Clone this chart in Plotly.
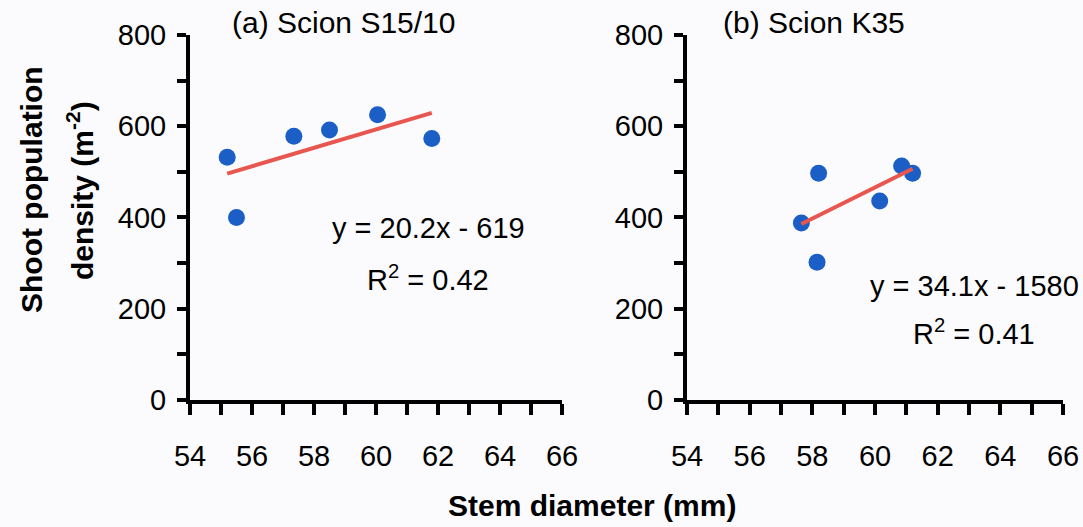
import plotly.graph_objects as go

# ---- data ----
diam_a = [55.2, 55.5, 57.35, 58.5, 60.05, 61.8]
shoot_a = [532, 400, 578, 592, 625, 573]
slope_a, icpt_a, r2_a = 20.2, -619, 0.42

diam_b = [57.65, 58.15, 58.2, 60.15, 60.85, 61.2]
shoot_b = [388, 302, 497, 436, 513, 497]
slope_b, icpt_b, r2_b = 34.1, -1580, 0.41

x_ticks = [54, 56, 58, 60, 62, 64, 66]
y_ticks = [0, 200, 400, 600, 800]

FONT = "Liberation Sans, Arial, sans-serif"
BLUE = "#1b5fc6"
RED = "#e8574f"

fig = go.Figure()

def add_panel(xs, ys, slope, icpt, xa, ya):
    fig.add_trace(go.Scatter(x=xs, y=ys, mode="markers", xaxis=xa, yaxis=ya,
                             marker=dict(size=17, color=BLUE), showlegend=False,
                             cliponaxis=False))
    x0, x1 = min(xs), max(xs)
    fig.add_trace(go.Scatter(x=[x0, x1], y=[slope * x0 + icpt, slope * x1 + icpt],
                             mode="lines", xaxis=xa, yaxis=ya,
                             line=dict(color=RED, width=4), showlegend=False))

add_panel(diam_a, shoot_a, slope_a, icpt_a, "x", "y")
add_panel(diam_b, shoot_b, slope_b, icpt_b, "x2", "y2")

def xaxis_cfg(domain, anchor):
    return dict(domain=domain, anchor=anchor, range=[54, 66], tickvals=x_ticks,
                automargin=False,
                showline=True, linecolor="black", linewidth=4, ticks="outside",
                ticklen=11, tickwidth=4, tickcolor="black", showgrid=False, zeroline=False,
                minor=dict(dtick=1, ticks="outside", ticklen=11, tickwidth=4, tickcolor="black", showgrid=False),
                ticklabelstandoff=16, tickfont=dict(family=FONT, size=29, color="black"))

def yaxis_cfg(anchor):
    return dict(domain=[0.241, 0.9336], anchor=anchor, range=[0, 800], tickvals=y_ticks,
                automargin=False,
                showline=True, linecolor="black", linewidth=4, ticks="outside",
                ticklen=9, tickwidth=4, tickcolor="black", showgrid=False, zeroline=False,
                minor=dict(dtick=100, ticks="outside", ticklen=9, tickwidth=4, tickcolor="black", showgrid=False),
                ticklabelstandoff=5, tickfont=dict(family=FONT, size=29, color="black"))

ann = []
def txt(text, x, y, xref, yref, size=29, xanchor="center", angle=0):
    ann.append(dict(text=text, x=x, y=y, xref=xref, yref=yref, showarrow=False,
                    xanchor=xanchor, yanchor="middle", textangle=angle,
                    font=dict(family=FONT, size=size, color="black")))

txt("(a) Scion S15/10", 230 / 1083, 1 - 22 / 527, "paper", "paper", size=30, xanchor="left")
txt("(b) Scion K35", 721 / 1083, 1 - 22 / 527, "paper", "paper", size=30, xanchor="left")
txt(f"y = {slope_a}x - {-icpt_a}", 61.68, 377, "x", "y")
txt(f"R<sup>2</sup> = {r2_a}", 61.68, 267, "x", "y")
txt(f"y = {slope_b}x - {-icpt_b}", 63.17, 249, "x2", "y2")
txt(f"R<sup>2</sup> = {r2_b}", 63.17, 149, "x2", "y2")
txt("<b>Shoot population</b>", 31 / 1083, 1 - 190 / 527, "paper", "paper", size=30, angle=-90)
txt("<b>density (m<sup>-2</sup>)</b>", 80 / 1083, 1 - 191 / 527, "paper", "paper", size=30, angle=-90)
txt("<b>Stem diameter (mm)</b>", 592 / 1083, 1 - 505 / 527, "paper", "paper", size=30)

fig.update_layout(
    width=1083, height=527, margin=dict(l=0, r=0, t=0, b=0, autoexpand=False),
    paper_bgcolor="#fbfbfd", plot_bgcolor="#fbfbfd",
    xaxis=xaxis_cfg([190 / 1083, 562 / 1083], "y"),
    yaxis=yaxis_cfg("x"),
    xaxis2=xaxis_cfg([687 / 1083, 1063 / 1083], "y2"),
    yaxis2=yaxis_cfg("x2"),
    annotations=ann,
    font=dict(family=FONT, color="black"),
)

fig.write_html("out.html")
